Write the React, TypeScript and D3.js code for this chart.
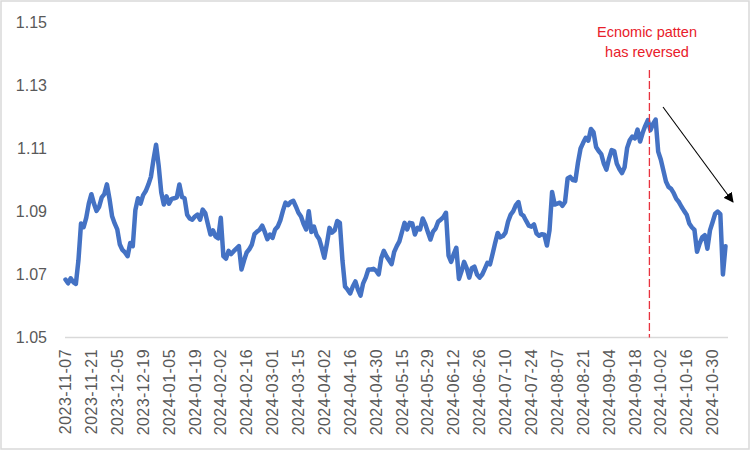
import React from "react";
import * as d3 from "d3";

const tickLabels = [
  "2023-11-07", "2023-11-21", "2023-12-05", "2023-12-19", "2024-01-05", "2024-01-19",
  "2024-02-02", "2024-02-16", "2024-03-01", "2024-03-15", "2024-04-02", "2024-04-16",
  "2024-04-30", "2024-05-15", "2024-05-29", "2024-06-12", "2024-06-26", "2024-07-10",
  "2024-07-24", "2024-08-07", "2024-08-21", "2024-09-04", "2024-09-18", "2024-10-02",
  "2024-10-16", "2024-10-30",
];
const tickEvery = 10;

const values = [
  1.0684, 1.0672, 1.0688, 1.0676, 1.0670, 1.0745, 1.0862, 1.0850, 1.0880, 1.0925,
  1.0955, 1.0925, 1.0902, 1.0915, 1.0945, 1.0955, 1.0986, 1.0940, 1.0885, 1.0862,
  1.0843, 1.0795, 1.0778, 1.0770, 1.0758, 1.0800, 1.0790, 1.0905, 1.0942, 1.0925,
  1.0952, 1.0965, 1.0985, 1.1010, 1.1065, 1.1112, 1.1045, 1.0960, 1.0922, 1.0948,
  1.0925, 1.0940, 1.0942, 1.0945, 1.0986, 1.0946, 1.0942, 1.0890, 1.0878, 1.0874,
  1.0884, 1.0890, 1.0874, 1.0906, 1.0895, 1.0860, 1.0827, 1.0840, 1.0820, 1.0815,
  1.0880, 1.0758, 1.0750, 1.0775, 1.0765, 1.0774, 1.0782, 1.0790, 1.0716, 1.0745,
  1.0770, 1.0780, 1.0795, 1.0828, 1.0836, 1.0842, 1.0855, 1.0835, 1.0812, 1.0827,
  1.0816, 1.0843, 1.0852, 1.0872, 1.0902, 1.0928, 1.0920, 1.0930, 1.0934, 1.0916,
  1.0896, 1.0884, 1.0860, 1.0843, 1.0901, 1.0835, 1.0852, 1.0825, 1.0813, 1.0785,
  1.0753, 1.0798, 1.0848, 1.0833, 1.0840, 1.0870, 1.0864, 1.0745, 1.0662, 1.0652,
  1.0640, 1.0662, 1.0678, 1.0652, 1.0633, 1.0672, 1.0690, 1.0716, 1.0716, 1.0718,
  1.0712, 1.0700, 1.0752, 1.0775, 1.0758, 1.0745, 1.0733, 1.0772, 1.0790, 1.0805,
  1.0835, 1.0864, 1.0843, 1.0864, 1.0862, 1.0827, 1.0848, 1.0843, 1.0878, 1.0860,
  1.0835, 1.0811, 1.0836, 1.0846, 1.0868, 1.0874, 1.0882, 1.0896, 1.0760, 1.0740,
  1.0765, 1.0785, 1.0686, 1.0710, 1.0740, 1.0720, 1.0690, 1.0720, 1.0725, 1.0700,
  1.0690, 1.0700, 1.0718, 1.0737, 1.0732, 1.0765, 1.0800, 1.0832, 1.0818, 1.0822,
  1.0833, 1.0868, 1.0890, 1.0901, 1.0920, 1.0930, 1.0892, 1.0886, 1.0870, 1.0855,
  1.0852, 1.0859, 1.0830, 1.0823, 1.0828, 1.0826, 1.0792, 1.0840, 1.0962, 1.0922,
  1.0925, 1.0928, 1.0918, 1.0930, 1.1005, 1.1010, 1.1000, 1.0998, 1.1055, 1.1100,
  1.1118, 1.1134, 1.1125, 1.1162, 1.1152, 1.1105, 1.1092, 1.1082, 1.1052, 1.1033,
  1.1068, 1.1095, 1.1092, 1.1052, 1.1035, 1.1022, 1.1040, 1.1102, 1.1126, 1.1138,
  1.1132, 1.1160, 1.1122, 1.1150, 1.1172, 1.1190, 1.1158, 1.1178, 1.1192, 1.1090,
  1.1065, 1.1030, 1.0995, 1.0978, 1.0972, 1.0958, 1.0940, 1.0930, 1.0915, 1.0902,
  1.0890, 1.0862, 1.0850, 1.0842, 1.0772, 1.0798, 1.0818, 1.0825, 1.0782, 1.0840,
  1.0866, 1.0893, 1.0900, 1.0892, 1.0700, 1.0790,
];

const yTicks = [1.05, 1.07, 1.09, 1.11, 1.13, 1.15];
const annotationLines = ["Ecnomic patten", "has reversed"];
const reversalIndex = 225.6;

const W = 751;
const H = 452;
const plotLeft = 65.5;
const plotRight = 725.5;
const plotTop = 22.5;
const plotBottom = 337.5;

export default function App() {
  const x = d3.scaleLinear().domain([0, values.length - 1]).range([plotLeft, plotRight]);
  const y = d3.scaleLinear().domain([1.05, 1.15]).range([plotBottom, plotTop]);
  const line = d3
    .line<number>()
    .x((_, i) => x(i))
    .y((d) => y(d))
    .curve(d3.curveLinear);

  const rx = x(reversalIndex);
  const font = "'Liberation Sans', Arial, sans-serif";

  return (
    <svg
      width={W}
      height={H}
      style={{ position: "absolute", left: 0, top: 0, display: "block", background: "#fff" }}
    >
      <defs>
        <marker id="ah" markerWidth="10" markerHeight="10" refX="9" refY="5" orient="auto" markerUnits="userSpaceOnUse">
          <path d="M0,0 L10,5 L0,10 z" fill="#000" />
        </marker>
      </defs>
      <rect x={1} y={1} width={748} height={448} fill="#fff" stroke="#d9d9d9" strokeWidth={1.5} />

      {/* y labels */}
      {yTicks.map((t) => (
        <text
          key={t}
          x={47}
          y={y(t)}
          dy="0.35em"
          textAnchor="end"
          fontFamily={font}
          fontSize={16}
          fill="#595959"
        >
          {t.toFixed(2)}
        </text>
      ))}

      {/* x axis line */}
      <line x1={65} x2={728} y1={plotBottom} y2={plotBottom} stroke="#d9d9d9" strokeWidth={1.5} />

      {/* x labels */}
      {tickLabels.map((lab, k) => (
        <text
          key={lab}
          transform={`translate(${x(k * tickEvery)},349) rotate(-90)`}
          dy="0.35em"
          textAnchor="end"
          fontFamily={font}
          fontSize={16}
          letterSpacing={0.45}
          fill="#595959"
        >
          {lab}
        </text>
      ))}

      {/* series */}
      <path
        d={line(values) || ""}
        fill="none"
        stroke="#4472C4"
        strokeWidth={4.5}
        strokeLinejoin="round"
        strokeLinecap="round"
      />

      {/* reversal marker */}
      <line x1={rx} x2={rx} y1={70} y2={plotBottom} stroke="#E8333F" strokeWidth={1.3} strokeDasharray="8 3" />
      {annotationLines.map((t, k) => (
        <text
          key={t}
          x={647}
          y={37 + k * 20}
          textAnchor="middle"
          fontFamily={font}
          fontSize={14.5}
          fill="#E8202A"
        >
          {t}
        </text>
      ))}

      {/* arrow */}
      <line x1={663} y1={107} x2={733} y2={202} stroke="#000" strokeWidth={1.1} markerEnd="url(#ah)" />
    </svg>
  );
}
